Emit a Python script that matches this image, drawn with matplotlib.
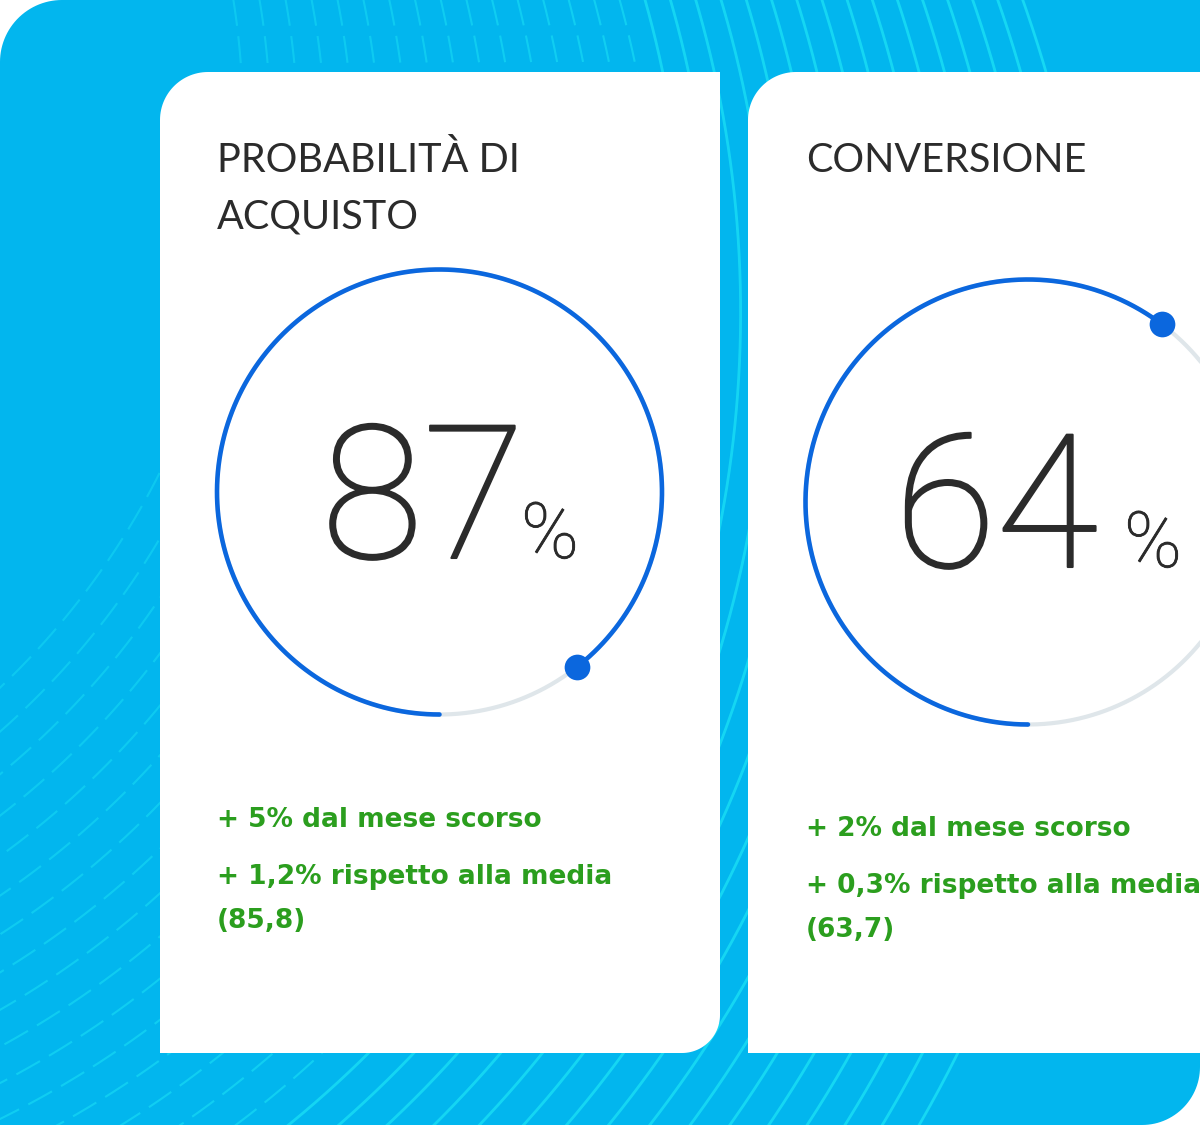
import numpy as np
import matplotlib.pyplot as plt
import matplotlib.patheffects as pe
from matplotlib.patches import Polygon

# ---- data ----
titles = [["PROBABILITÀ DI", "ACQUISTO"], ["CONVERSIONE"]]
values = [87, 64]                 # big number shown in each card (%)
ring_fill = [89.4, 60.3]          # how far the blue ring runs, as drawn (%)
month_change = [5, 2]             # + x% dal mese scorso
avg_change = [1.2, 0.3]           # + x% rispetto alla media
averages = [85.8, 63.7]           # (media)

W, H = 1200, 1125
CYAN = "#02b6ee"
STREAK = "#16d8f4"
BLUE = "#0b67de"
TRACK = "#dfe6ea"
INK = "#2b2b2b"
GREEN = "#2b9e1e"


def it_num(v):
    # italian decimal comma
    s = ("%g" % v)
    return s.replace(".", ",")


def corner_path(x0, y0, x1, y1, tl=0, tr=0, br=0, bl=0, n=30):
    # rectangle in pixel coords (y down) with some corners rounded
    def arc(cx, cy, r, a0, a1):
        if r == 0:
            return [(cx, cy)]
        a = np.radians(np.linspace(a0, a1, n))
        return list(zip(cx + r * np.cos(a), cy + r * np.sin(a)))
    pts = []
    pts += arc(x0 + tl, y0 + tl, tl, 180, 270)
    pts += arc(x1 - tr, y0 + tr, tr, 270, 360)
    pts += arc(x1 - br, y1 - br, br, 0, 90)
    pts += arc(x0 + bl, y1 - bl, bl, 90, 180)
    return np.array(pts)


fig = plt.figure(figsize=(12, 11.25), dpi=100)
ax = fig.add_axes([0, 0, 1, 1])
ax.set_xlim(0, W)
ax.set_ylim(H, 0)
ax.axis("off")

# cyan panel
panel = Polygon(corner_path(0, 0, W, H, tl=62, br=58), closed=True,
                facecolor=CYAN, edgecolor="none", zorder=0)
ax.add_patch(panel)

# decorative streaks behind the cards
n_lines = 32
for t in np.linspace(0, 1, n_lines):
    cx = -537 + t * 287
    cy = 122 + t * 328
    r = 780 + t * 570
    a = np.linspace(-np.pi, np.pi, 900)
    if t < 0.5:
        ls = (0, (13, 5))
        alpha = 0.55 + 0.4 * t
        lw = 1.5
    else:
        ls = "-"
        alpha = 0.85 + 0.15 * t
        lw = 2.0
    line, = ax.plot(cx + r * np.cos(a), cy + r * np.sin(a), color=STREAK,
                    lw=lw, ls=ls, alpha=alpha, zorder=1,
                    solid_capstyle="butt", dash_capstyle="butt")
    line.set_clip_path(panel)

# cards
cards = [corner_path(160, 72, 720, 1053, tl=48, br=38),
         corner_path(748, 72, 1300, 1053, tl=48)]
for c in cards:
    ax.add_patch(Polygon(c, closed=True, facecolor="white",
                         edgecolor="none", zorder=2))

card_x = [217, 806]
ring_c = [(439.5, 492), (1028, 502)]
R = 222.5
num_right = [525, 1098]
pct_left = [521, 1124]
num_base = [558, 567]
green_base = [827, 836]

NUM_FONT = dict(family="Roboto", weight="light", color=INK,
                path_effects=[pe.withStroke(linewidth=1.5, foreground=INK)])
PCT_FONT = dict(family="Roboto", weight="light", color=INK,
                path_effects=[pe.withStroke(linewidth=0.6, foreground=INK)])
GREEN_FONT = dict(family="DejaVu Sans", weight="bold", color=GREEN,
                  fontsize=19)


def ring_xy(cx, cy, r, frac, n=600):
    # starts at 6 o'clock and runs clockwise on screen
    phi = np.linspace(0, 2 * np.pi * frac, n)
    return cx - r * np.sin(phi), cy + r * np.cos(phi)


for i in range(len(titles)):
    x0 = card_x[i]
    for k, ln in enumerate(titles[i]):
        ax.text(x0, 172 + 56 * k, ln, fontsize=28.5, family="Lato",
                color=INK, va="baseline", ha="left", zorder=5)

    cx, cy = ring_c[i]
    tx, ty = ring_xy(cx, cy, R, 1.0)
    ax.plot(tx, ty, color=TRACK, lw=3.0, zorder=3, solid_capstyle="round")
    bx, by = ring_xy(cx, cy, R, ring_fill[i] / 100)
    ax.plot(bx, by, color=BLUE, lw=3.3, zorder=4, solid_capstyle="round")
    ax.plot(bx[-1], by[-1], "o", ms=18.5, color=BLUE, mec="none", zorder=5)

    ax.text(num_right[i], num_base[i], str(values[i]), fontsize=134,
            ha="right", va="baseline", zorder=5, **NUM_FONT)
    ax.text(pct_left[i], num_base[i], "%", fontsize=56,
            ha="left", va="baseline", zorder=5, **PCT_FONT)

    gb = green_base[i]
    ax.text(x0, gb, "+ %s%% dal mese scorso" % it_num(month_change[i]),
            ha="left", va="baseline", zorder=5, **GREEN_FONT)
    ax.text(x0, gb + 57, "+ %s%% rispetto alla media" % it_num(avg_change[i]),
            ha="left", va="baseline", zorder=5, **GREEN_FONT)
    ax.text(x0, gb + 101, "(%s)" % it_num(averages[i]),
            ha="left", va="baseline", zorder=5, **GREEN_FONT)

fig.savefig("out.png", dpi=100, facecolor="white")
